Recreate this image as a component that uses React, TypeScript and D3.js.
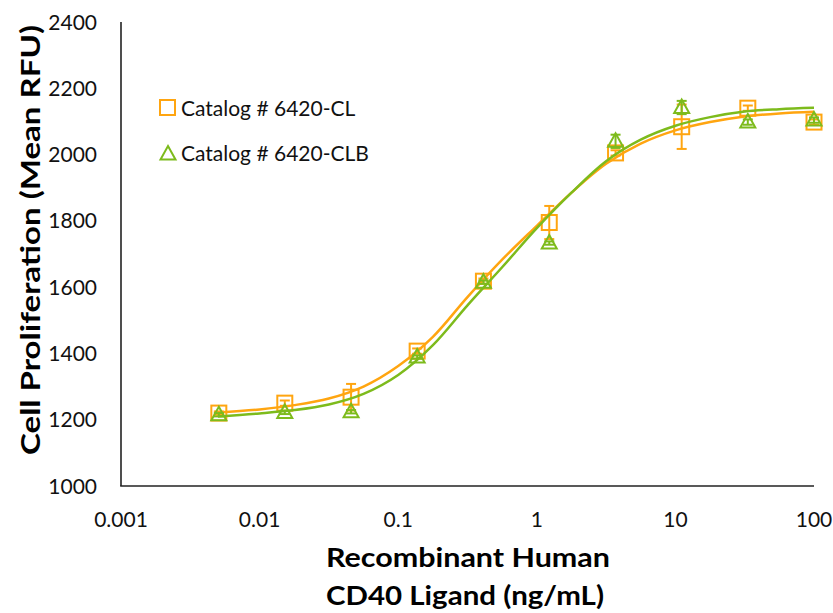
import React from "react";
import * as d3 from "d3";

// Measured points (ng/mL) and their mean RFU with error (SD)
const concentrations = [0.00508, 0.0152, 0.0457, 0.137, 0.412, 1.23, 3.7, 11.1, 33.3, 100];
const clValues = [1220, 1250, 1268, 1407, 1618, 1795, 2005, 2084, 2140, 2098];
const clErrors = [5, 8, 40, 8, 8, 50, 8, 67, 8, 8];
const clbValues = [1215, 1222, 1224, 1389, 1615, 1733, 2040, 2142, 2098, 2104];
const clbErrors = [5, 5, 5, 5, 5, 5, 20, 20, 8, 8];

// Fitted curves
const curveConc = [0.005, 0.01, 0.0178, 0.0316, 0.0562, 0.1, 0.178, 0.316, 0.562, 1, 1.78, 3.16, 5.62, 10, 17.8, 31.6, 56.2, 100];
const clCurve = [1222, 1231, 1244, 1264, 1300, 1362, 1450, 1570, 1683, 1785, 1885, 1972, 2033, 2073, 2098, 2115, 2124, 2129];
const clbCurve = [1210, 1219, 1229, 1246, 1278, 1335, 1425, 1545, 1660, 1778, 1885, 1980, 2045, 2087, 2113, 2130, 2137, 2141];

const xTicks = [0.001, 0.01, 0.1, 1, 10, 100];
const xTickLabels = ["0.001", "0.01", "0.1", "1", "10", "100"];
const yTicks = [1000, 1200, 1400, 1600, 1800, 2000, 2200, 2400];

const seriesNames = ["Catalog # 6420-CL", "Catalog # 6420-CLB"];

const ORANGE = "#FFA510";
const GREEN = "#7DBB1C";
const FONT = "Lato, 'Open Sans', sans-serif";

export default function App() {
  const W = 833;
  const H = 613;
  const x = d3.scaleLog().domain([0.001, 100]).range([121, 814]);
  const y = d3.scaleLinear().domain([1000, 2400]).range([486, 22]);

  const line = d3
    .line<[number, number]>()
    .x((d) => x(d[0]))
    .y((d) => y(d[1]))
    .curve(d3.curveCatmullRom.alpha(0.5));

  const clPath = line(curveConc.map((c, i) => [c, clCurve[i]]));
  const clbPath = line(curveConc.map((c, i) => [c, clbCurve[i]]));

  const square = (cx: number, cy: number, color: string, key: string) => (
    <rect key={key} x={cx - 7.5} y={cy - 7.5} width={15} height={15} fill="none" stroke={color} strokeWidth={2} />
  );
  const triangle = (cx: number, cy: number, color: string, key: string) => (
    <path
      key={key}
      d={`M${cx},${cy - 8} L${cx + 7.5},${cy + 5.5} L${cx - 7.5},${cy + 5.5} Z`}
      fill="none"
      stroke={color}
      strokeWidth={2}
      strokeLinejoin="miter"
    />
  );
  const errBar = (cx: number, v: number, e: number, color: string, key: string) => (
    <g key={key} stroke={color} strokeWidth={2}>
      <line x1={cx} x2={cx} y1={y(v - e)} y2={y(v + e)} />
      <line x1={cx - 5} x2={cx + 5} y1={y(v - e)} y2={y(v - e)} />
      <line x1={cx - 5} x2={cx + 5} y1={y(v + e)} y2={y(v + e)} />
    </g>
  );

  return (
    <svg width={W} height={H} style={{ position: "absolute", left: 0, top: 0, background: "#fff" }} fontFamily={FONT}>
      <rect width={W} height={H} fill="#fff" />
      {/* axes */}
      <line x1={121} x2={121} y1={y(2400)} y2={y(1000)} stroke="#222" strokeWidth={1.6} />
      <line x1={120.2} x2={814} y1={y(1000)} y2={y(1000)} stroke="#222" strokeWidth={1.6} />
      {yTicks.map((t) => (
        <text key={t} x={97} y={y(t)} dy="0.36em" textAnchor="end" fontSize={21} fill="#111">
          {t}
        </text>
      ))}
      {xTicks.map((t, i) => (
        <text key={t} x={x(t)} y={527} textAnchor="middle" fontSize={21} fill="#111">
          {xTickLabels[i]}
        </text>
      ))}
      {/* titles */}
      <text
        transform={`translate(40,240) rotate(-90)`}
        textAnchor="middle"
        fontSize={27}
        fontWeight="bold"
        fill="#000"
        textLength={430}
        lengthAdjust="spacingAndGlyphs"
      >
        Cell Proliferation (Mean RFU)
      </text>
      <text
        x={468}
        y={567}
        textAnchor="middle"
        fontSize={27}
        fontWeight="bold"
        fill="#000"
        textLength={284}
        lengthAdjust="spacingAndGlyphs"
      >
        Recombinant Human
      </text>
      <text
        x={465}
        y={605}
        textAnchor="middle"
        fontSize={27}
        fontWeight="bold"
        fill="#000"
        textLength={278}
        lengthAdjust="spacingAndGlyphs"
      >
        CD40 Ligand (ng/mL)
      </text>

      {/* series CL */}
      <path d={clPath || ""} fill="none" stroke={ORANGE} strokeWidth={2.5} />
      {concentrations.map((c, i) => errBar(x(c), clValues[i], clErrors[i], ORANGE, "ce" + i))}
      {concentrations.map((c, i) => square(x(c), y(clValues[i]), ORANGE, "cs" + i))}

      {/* series CLB */}
      <path d={clbPath || ""} fill="none" stroke={GREEN} strokeWidth={2.5} />
      {concentrations.map((c, i) => errBar(x(c), clbValues[i], clbErrors[i], GREEN, "be" + i))}
      {concentrations.map((c, i) => triangle(x(c), y(clbValues[i]), GREEN, "bt" + i))}

      {/* legend */}
      {square(167.5, 107.5, ORANGE, "lg0")}
      <text x={181} y={116} fontSize={21} fill="#111">
        {seriesNames[0]}
      </text>
      {triangle(168, 154, GREEN, "lg1")}
      <text x={181} y={161} fontSize={21} fill="#111">
        {seriesNames[1]}
      </text>
    </svg>
  );
}
